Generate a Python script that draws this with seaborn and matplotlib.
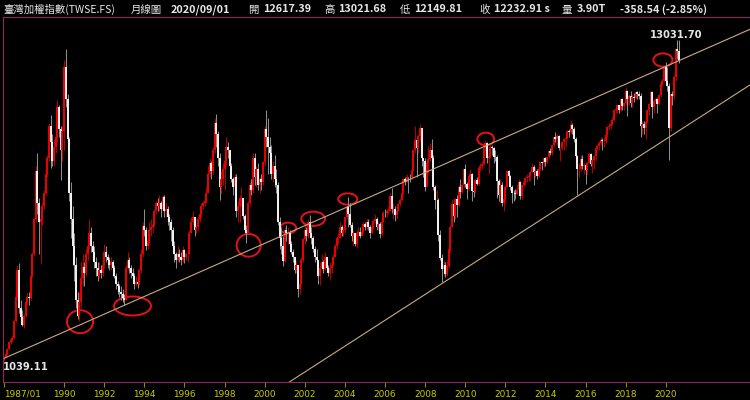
import numpy as np
import pandas as pd
import seaborn as sns
import matplotlib.pyplot as plt
from matplotlib.patches import Ellipse

# monthly bars 1987/01 .. 2020/08 (open of each month = previous close)
start_open = 1039.11
close = [
    1160, 1250, 1440, 1700, 1780, 1850, 2500, 3400, 4400, 3000, 2650, 2340,  # 1987
    2700, 3200, 3400, 3350, 4200, 5000, 6300, 8100, 6900, 6200, 6300, 6800,  # 1988
    7300, 8000, 8600, 9800, 9200, 8500, 9000, 9400, 10500, 9700, 8900, 9624,  # 1989
    12000, 10800, 9300, 7300, 6300, 5300, 4600, 3300, 2700, 3200, 4100, 4530,  # 1990
    4300, 5000, 5300, 5800, 5300, 5100, 4700, 4500, 4200, 4400, 4300, 4600,  # 1991
    5100, 4900, 4800, 4600, 4700, 4500, 4200, 3900, 3800, 3600, 3500, 3377,  # 1992
    3300, 4500, 4800, 4500, 4300, 4200, 3900, 3950, 3900, 4400, 5000, 6070,  # 1993
    5900, 5300, 5500, 5900, 6000, 6100, 6600, 6900, 6800, 6900, 6700, 7124,  # 1994
    6600, 6700, 6400, 6200, 5900, 5300, 5000, 4800, 5000, 4900, 4800, 5174,  # 1995
    4900, 5000, 5000, 5800, 6200, 6400, 5900, 6000, 6300, 6500, 6800, 6934,  # 1996
    7000, 7300, 8000, 8400, 8100, 8900, 9900, 9500, 8600, 7500, 7800, 8187,  # 1997
    8500, 9000, 8900, 8300, 7800, 7500, 7900, 6600, 6800, 7100, 7100, 6418,  # 1998
    5900, 5800, 6900, 7600, 7400, 8600, 7900, 8200, 7600, 7800, 7700, 8449,  # 1999
    9700, 9400, 9000, 8800, 8000, 8300, 7800, 7600, 6200, 5600, 5300, 4739,  # 2000
    5900, 5800, 5800, 5400, 5100, 4900, 4400, 4600, 3700, 3900, 4800, 5551,  # 2001
    5900, 5700, 6200, 5800, 5600, 5200, 4900, 4800, 4200, 4500, 4700, 4452,  # 2002
    4900, 4500, 4300, 4500, 4600, 4900, 5300, 5600, 5600, 6000, 5800, 5891,  # 2003
    6400, 6750, 6500, 6100, 5700, 5800, 5400, 5800, 5850, 5700, 5850, 6140,  # 2004
    6000, 6200, 6000, 5800, 6000, 6240, 6300, 6030, 6120, 5760, 6200, 6548,  # 2005
    6530, 6600, 6600, 7170, 6700, 6700, 6450, 6610, 6890, 7020, 7300, 7824,  # 2006
    7700, 7900, 7880, 7875, 8145, 8883, 9287, 8982, 9411, 9711, 8586, 8506,  # 2007
    7521, 8413, 8572, 8920, 8619, 7524, 7024, 7046, 5719, 4870, 4460, 4591,  # 2008
    4248, 4557, 5211, 6033, 6890, 6432, 7078, 6825, 7509, 7340, 7582, 8188,  # 2009
    7640, 7436, 7920, 8004, 7374, 7329, 7761, 7616, 8238, 8287, 8372, 8972,  # 2010
    9145, 8600, 8683, 9008, 8988, 8653, 8644, 7741, 7225, 7588, 6904, 7072,  # 2011
    7517, 8121, 7933, 7501, 7301, 7296, 7270, 7397, 7715, 7166, 7580, 7700,  # 2012
    7850, 7907, 7919, 8093, 8254, 8062, 8107, 7915, 8174, 8450, 8407, 8612,  # 2013
    8462, 8640, 8849, 8792, 9075, 9393, 9315, 9436, 8967, 8974, 9187, 9307,  # 2014
    9362, 9622, 9586, 9820, 9701, 9323, 8665, 8175, 8181, 8554, 8320, 8338,  # 2015
    8145, 8411, 8745, 8377, 8536, 8667, 8984, 9069, 9167, 9290, 9240, 9254,  # 2016
    9448, 9750, 9812, 9872, 10041, 10395, 10427, 10586, 10384, 10794, 10560, 10643,  # 2017
    11104, 10815, 10919, 10658, 10875, 10837, 11057, 10989, 10919, 9802, 9888, 9727,  # 2018
    9932, 10389, 10641, 11063, 10498, 10731, 10824, 10618, 10956, 11358, 11489, 11997,  # 2019
    11495, 11292, 9708, 10992, 10942, 11621, 12665, 12591.45,  # 2020
]
high = [
    1180, 1270, 1460, 1760, 1900, 1960, 2560, 3450, 4600, 4673, 3300, 2900,
    2760, 3260, 3550, 3600, 4300, 5100, 6400, 8300, 8789, 7100, 6700, 6950,
    7400, 8100, 8700, 9900, 10220, 9500, 9300, 9600, 10790, 10600, 9800, 9800,
    12280, 12682, 11000, 9400, 7700, 6800, 5800, 4900, 3600, 3600, 4700, 5000,
    4700, 5200, 5600, 6300, 6000, 5500, 5300, 4900, 4700, 4700, 4600, 4800,
    5400, 5300, 5000, 4900, 4900, 4800, 4600, 4300, 4000, 3900, 3800, 3700,
    3500, 4600, 5100, 4900, 4600, 4500, 4300, 4200, 4100, 4500, 5200, 6200,
    6700, 6000, 5800, 6200, 6300, 6300, 6700, 7000, 7100, 7200, 7000, 7200,
    7200, 6900, 6800, 6500, 6300, 6000, 5500, 5100, 5300, 5200, 5100, 5300,
    5200, 5100, 5200, 5900, 6400, 6600, 6400, 6100, 6400, 6600, 6900, 7000,
    7100, 7500, 8300, 8600, 8500, 9000, 10100, 10256, 9600, 8800, 8100, 8400,
    8700, 9378, 9200, 8900, 8400, 7900, 8000, 8000, 7000, 7200, 7500, 7100,
    6500, 6100, 7000, 7700, 7800, 8800, 8800, 8300, 8400, 7900, 8000, 8500,
    9800, 10393, 10100, 9400, 9100, 8500, 8700, 8200, 7700, 6400, 6000, 5700,
    6000, 6104, 6000, 5900, 5500, 5200, 4900, 4800, 4600, 4000, 4900, 5600,
    6100, 6000, 6300, 6484, 6000, 5700, 5300, 5200, 4800, 4700, 5000, 4800,
    5100, 4900, 4600, 4700, 4700, 5000, 5400, 5700, 5800, 6200, 6100, 6000,
    6400, 6800, 7135, 6900, 6200, 5900, 5800, 5900, 6000, 6000, 6000, 6200,
    6200, 6300, 6300, 6100, 6100, 6300, 6500, 6400, 6200, 6200, 6300, 6600,
    6700, 6700, 6800, 7300, 7474, 6900, 6800, 6700, 6900, 7100, 7400, 7850,
    7900, 8000, 7900, 8000, 8200, 8900, 9807, 9300, 9500, 9859, 9720, 8600,
    8600, 8500, 9050, 9150, 9309, 8700, 7600, 7400, 7100, 5900, 5000, 4800,
    4700, 4800, 5300, 6100, 7085, 6900, 7100, 7200, 7600, 7800, 7600, 8200,
    8395, 7700, 8000, 8200, 8050, 7600, 7800, 7900, 8300, 8400, 8500, 9000,
    9220, 9200, 8700, 9100, 9100, 9000, 8900, 8700, 7800, 7800, 7700, 7300,
    7600, 8170, 8144, 7950, 7600, 7400, 7450, 7600, 7800, 7750, 7600, 7750,
    7900, 8000, 8000, 8100, 8400, 8350, 8250, 8200, 8250, 8460, 8450, 8620,
    8650, 8650, 8900, 8970, 9100, 9400, 9593, 9500, 9450, 9000, 9200, 9350,
    9400, 9650, 9700, 10014, 9900, 9750, 9400, 8700, 8400, 8700, 8700, 8400,
    8400, 8450, 8800, 8800, 8560, 8700, 9000, 9120, 9230, 9400, 9350, 9400,
    9500, 9800, 9930, 9900, 10120, 10400, 10510, 10600, 10600, 10810, 10850, 10700,
    11270, 11150, 11000, 11100, 11000, 11050, 11120, 11100, 11100, 11050, 10000, 10000,
    9950, 10400, 10650, 11100, 11100, 10800, 10900, 10850, 10970, 11400, 11600, 12000,
    12197, 12000, 11400, 11000, 11100, 11700, 12700, 13031.70,
]
low = [
    1039.11, 1140, 1230, 1420, 1640, 1700, 1840, 2480, 3300, 2800, 2400, 2298,
    2250, 2650, 3100, 3100, 3300, 4150, 4950, 6200, 6500, 5000, 4650, 6100,
    6700, 7200, 7900, 8500, 8230, 8300, 8300, 8800, 9200, 9400, 7780, 8500,
    8900, 10500, 8800, 7000, 5600, 4600, 4000, 3000, 2560, 2485, 3000, 3800,
    3800, 4200, 4800, 5200, 5100, 4800, 4500, 4200, 4000, 4100, 4100, 4200,
    4500, 4700, 4500, 4400, 4400, 4200, 4100, 3700, 3500, 3400, 3300, 3200,
    3098, 3300, 4400, 4300, 4100, 4000, 3700, 3800, 3740, 3850, 4300, 4900,
    5700, 5160, 5200, 5400, 5700, 5800, 6000, 6500, 6600, 6600, 6400, 6600,
    6400, 6400, 6100, 5900, 5500, 5100, 4700, 4474, 4700, 4700, 4600, 4700,
    4670, 4800, 4700, 5000, 5800, 6100, 5700, 5800, 5900, 6200, 6400, 6700,
    6800, 6900, 7300, 7900, 7800, 8000, 8800, 9000, 8300, 7040, 7300, 7600,
    7400, 8300, 8600, 8200, 7700, 7200, 7300, 6400, 6200, 6200, 6800, 6300,
    5800, 5422, 5800, 6800, 7200, 7300, 7600, 7500, 7400, 7300, 7400, 7600,
    8300, 9000, 8000, 8500, 7800, 7700, 7500, 7300, 6100, 5200, 5000, 4555,
    4700, 5500, 5400, 5300, 5000, 4700, 4300, 4300, 3411, 3500, 3900, 4700,
    5400, 5500, 5600, 5700, 5400, 5100, 4700, 4500, 3900, 3850, 4400, 4300,
    4400, 4400, 4200, 4044, 4300, 4600, 4900, 5200, 5400, 5600, 5700, 5700,
    5800, 6300, 6000, 6000, 5500, 5300, 5300, 5250, 5700, 5600, 5700, 5800,
    5900, 5900, 5900, 5600, 5800, 5950, 6150, 5900, 5900, 5600, 5700, 6200,
    6400, 6400, 6500, 6600, 6550, 6300, 6230, 6300, 6600, 6800, 7000, 7250,
    7600, 7700, 7300, 7700, 7800, 8100, 8800, 7900, 8800, 9200, 8300, 7900,
    7384, 7600, 8000, 8500, 8400, 7400, 6700, 6800, 5500, 4800, 3955, 4200,
    4164, 4200, 4500, 5100, 6000, 6200, 6300, 6400, 6800, 7100, 7300, 7500,
    7500, 7080, 7400, 7800, 7000, 7150, 7300, 7600, 7600, 8100, 8200, 8350,
    8800, 8400, 8000, 8600, 8700, 8400, 8500, 7100, 7000, 6900, 6800, 6609,
    6950, 7500, 7800, 7400, 6900, 7000, 7050, 7250, 7300, 7050, 7050, 7500,
    7600, 7700, 7750, 7750, 8050, 7600, 7900, 7800, 7900, 8150, 8150, 8250,
    8300, 8400, 8600, 8700, 8700, 9000, 9200, 9100, 8900, 8500, 8900, 8900,
    9000, 9300, 9400, 9500, 9500, 9200, 8600, 7203, 7900, 8100, 8200, 8000,
    7627, 8000, 8400, 8300, 8050, 8200, 8500, 8900, 8900, 9100, 8900, 9000,
    9150, 9400, 9650, 9700, 9850, 10000, 10300, 10300, 10300, 10350, 10400, 10400,
    10600, 10190, 10600, 10500, 10500, 10700, 10800, 10800, 10800, 9400, 9500, 9500,
    9320, 9900, 10200, 10600, 10100, 10300, 10650, 10300, 10600, 10900, 11300, 11450,
    11400, 11100, 8523, 9600, 10600, 10800, 11500, 12300,
]

# current bar shown in the header (2020/09/01)
bar_date = "2020/09/01"
last_open, last_high, last_low, last_close = 12617.39, 13021.68, 12149.81, 12232.91
change, change_pct = -358.54, -2.85
volume = "3.90T"

tick_labels = ["1987/01", "1990", "1992", "1994", "1996", "1998", "2000", "2002",
               "2004", "2006", "2008", "2010", "2012", "2014", "2016", "2018", "2020"]

# trend lines (month index, index value) and red circles (month, value, width months, height pts)
upper_line = ([0, 447], [1100, 13437])
lower_line = ([165, 447], [-16, 11363])
circles = [(45.5, 2473, 15.6, 861), (76.9, 3061, 22.1, 711), (146.4, 5333, 14.4, 850),
           (170.0, 5981, 9.6, 400), (185.0, 6326, 14.2, 535), (205.7, 7067, 11.4, 423),
           (288.3, 9313, 10.0, 475), (394.3, 12271, 11.4, 498)]

df = pd.DataFrame({
    "open": [start_open] + close[:-1] + [last_open],
    "high": high + [last_high],
    "low": low + [last_low],
    "close": close + [last_close],
})
df["m"] = np.arange(len(df))
df["up"] = df["close"] >= df["open"]

sns.set_theme(style="dark", rc={"axes.facecolor": "black", "figure.facecolor": "black"})
plt.rcParams['font.family'] = ['Noto Sans CJK TC', 'DejaVu Sans']

fig = plt.figure(figsize=(7.5, 4), dpi=100)
ax = fig.add_axes([2.7 / 750, 17.7 / 400, 1 - 2.7 / 750, 365 / 400])
ax.set_facecolor("black")

#candles: wick then body
wick_col = np.where(df["up"], "#b00000", "#8c8c8c")
body_col = np.where(df["up"], "#ee0000", "#f4f4f4")
ax.vlines(df["m"], df["low"], df["high"], colors=wick_col, linewidth=0.75)
ax.vlines(df["m"], df[["open", "close"]].min(axis=1), df[["open", "close"]].max(axis=1),
          colors=body_col, linewidth=1.4)

#trend lines
for line in (upper_line, lower_line):
    sns.lineplot(x=line[0], y=line[1], color="#c8aa82", linewidth=0.8, ax=ax)

for cm, cv, cw, ch in circles:
    ax.add_patch(Ellipse((cm, cv), cw, ch, fill=False, edgecolor="#e8101a", linewidth=1.4))

#max / min labels
i_max = df["high"].idxmax()
i_min = df["low"].idxmin()
ax.annotate(f"{df['high'][i_max]:.2f}", xy=(i_max, df["high"][i_max]), xytext=(-1, 0),
            textcoords="offset points", ha="center", va="bottom", color="#e6e6e6",
            fontsize=7.2, fontweight="bold", family="DejaVu Sans")
ax.annotate(f"{df['low'][i_min]:.2f}", xy=(i_min, df["low"][i_min]), xytext=(-0.5, -1.5),
            textcoords="offset points", ha="left", va="top", color="#e6e6e6",
            fontsize=7.2, fontweight="bold", family="DejaVu Sans")

ax.set_xlim(-0.78, 446.4)
ax.set_ylim(204, 13870)
ticks = [(int(t[:4]) - 1987) * 12 for t in tick_labels]
ax.set_xticks(ticks)
ax.set_xticklabels(tick_labels, color="#cccc00", fontsize=6.4, family="DejaVu Sans")
ax.get_xticklabels()[0].set_horizontalalignment("left")
ax.set_yticks([])
ax.tick_params(axis="x", bottom=True, length=3.5, width=0.8, color="#8c8c00", pad=2.0)
ax.grid(False)
for s in ["top", "left", "bottom"]:
    ax.spines[s].set_color("#8c2a5c")
    ax.spines[s].set_linewidth(0.8)
ax.spines["right"].set_visible(False)
ax.set_xlabel("")
ax.set_ylabel("")

#header
y_head = 1 - 9.5 / 400
cjk = ['Noto Sans CJK TC', 'DejaVu Sans']
head = [
    (3, "臺灣加權指數(TWSE.FS)", "normal", 7.5),
    (131, "月線圖", "normal", 7.5),
    (171, bar_date, "bold", 7.8),
    (248, "開", "normal", 7.5), (263, f"{last_open:.2f}", "bold", 7.8),
    (324, "高", "normal", 7.5), (338, f"{last_high:.2f}", "bold", 7.8),
    (400, "低", "normal", 7.5), (414, f"{last_low:.2f}", "bold", 7.8),
    (479, "收", "normal", 7.5), (494, f"{last_close:.2f} s", "bold", 7.8),
    (562, "量", "normal", 7.5), (577, volume, "bold", 7.8),
    (620, f"{change:.2f} ({change_pct:.2f}%)", "bold", 7.8),
]
for x, s, w, fs in head:
    fig.text(x / 750, y_head, s, color="#e8e8e8", fontsize=fs, fontweight=w,
             family=cjk, ha="left", va="center")

plt.savefig("out.png", dpi=100, facecolor="black")
